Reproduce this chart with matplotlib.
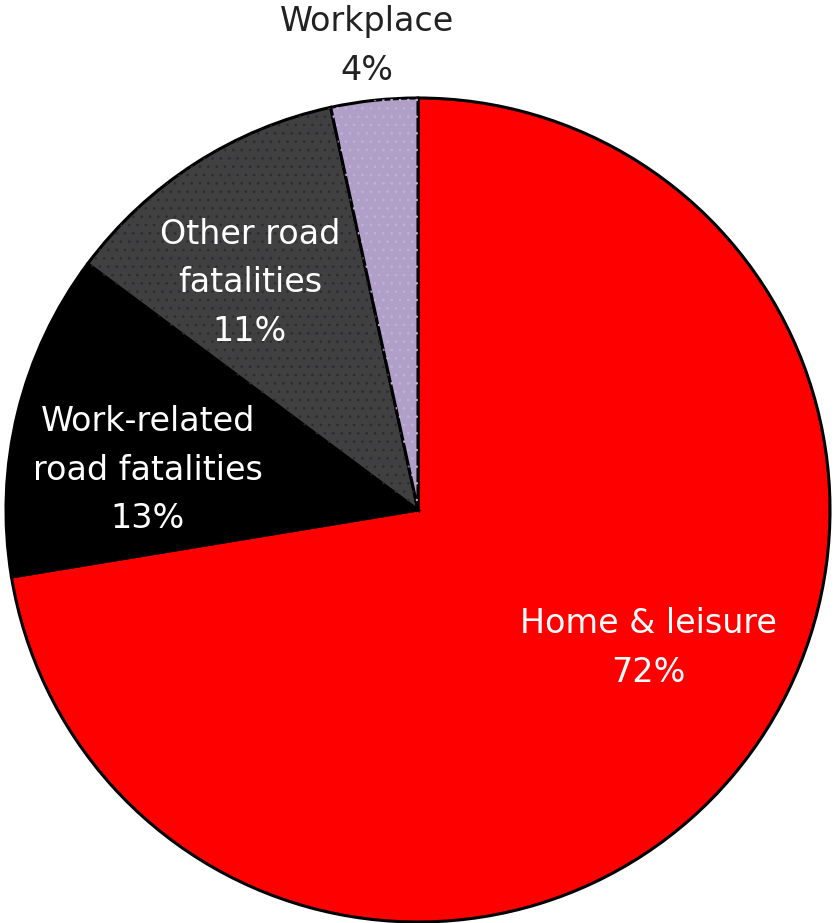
import matplotlib.pyplot as plt
from matplotlib.patches import Wedge

# slices, clockwise from 12 o'clock
labels = ['Home & leisure', 'Work-related\nroad fatalities', 'Other road\nfatalities', 'Workplace']
shares = [72.4, 12.8, 11.4, 3.4]          # slice sizes as measured on the chart
pct_labels = ['72%', '13%', '11%', '4%']  # percentages printed on the chart
colors = ['#ff0000', '#000000', '#404040', '#b0a0c8']
stipple = [None, None, '#2c2a34', '#c4aee0']
text_colors = ['white', 'white', 'white', '#222222']

W, H = 834, 923
cx, cy, r = 418, H - 510, 412

plt.rcParams['hatch.linewidth'] = 0.6

fig = plt.figure(figsize=(W / 100, H / 100), dpi=100)
ax = fig.add_axes([0, 0, 1, 1])

wedges, _ = ax.pie(shares, colors=colors, startangle=90, counterclock=False,
                   center=(cx, cy), radius=r, frame=True,
                   wedgeprops=dict(edgecolor='black', linewidth=2.2))

# faint stipple on the grey and purple slices
for w, sc in zip(wedges, stipple):
    if sc is None:
        continue
    ax.add_patch(Wedge(w.center, w.r, w.theta1, w.theta2, facecolor='none',
                       edgecolor=sc, linewidth=0, hatch='..'))

ax.set_xlim(0, W)
ax.set_ylim(0, H)
ax.set_aspect('equal')
ax.axis('off')

# label positions in pixels from the top-left (centre of text block)
label_pos = [(648, 648), (148, 470), (250, 283), (367, 46)]
for lab, pct, (x, y), c in zip(labels, pct_labels, label_pos, text_colors):
    ax.text(x, H - y, lab + '\n' + pct, ha='center', va='center',
            color=c, fontsize=24, linespacing=1.6, family='DejaVu Sans')

fig.savefig('out.png', dpi=100)
